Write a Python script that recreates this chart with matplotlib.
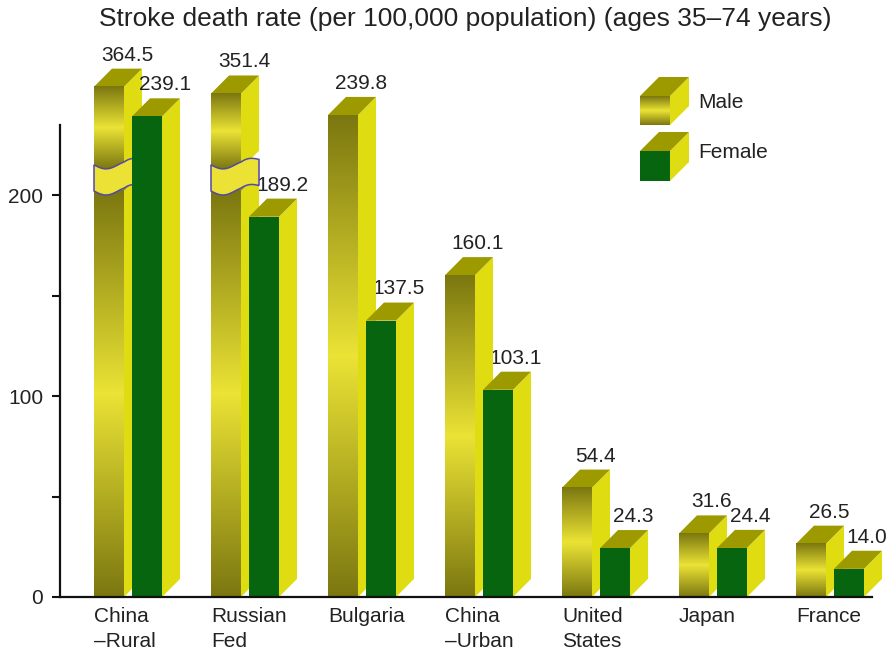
import numpy as np
import matplotlib
matplotlib.use("Agg")
import matplotlib.pyplot as plt
from matplotlib.colors import LinearSegmentedColormap
from matplotlib.patches import Polygon, Rectangle

plt.rcParams['font.family'] = ['Liberation Sans', 'DejaVu Sans']

# Data
countries = ["China\n\u2013Rural", "Russian\nFed", "Bulgaria", "China\n\u2013Urban",
             "United\nStates", "Japan", "France"]
male = [364.5, 351.4, 239.8, 160.1, 54.4, 31.6, 26.5]
female = [239.1, 189.2, 137.5, 103.1, 24.3, 24.4, 14.0]
title = "Stroke death rate (per 100,000 population) (ages 35\u201374 years)"

# Axis break for very tall bars
BREAK_LO, BREAK_HI = 202, 215
COMPRESS = 0.26

# Styling
DARK = '#7b7710'
BRIGHT = '#ebe335'
SIDE = '#e0dc12'
TOP = '#9d9a00'
GREEN = '#07640f'
BAND = '#ece236'
BAND_EDGE = '#5448a8'
TXT = '#222222'

SPACING = 117    # px per category
W = 30 / SPACING        # bar front width (x units)
OFF = 38 / SPACING      # female offset from male
DX, DY = 18 / SPACING, 9.0   # 3d depth in data units

male_cmap = LinearSegmentedColormap.from_list("m", [DARK, BRIGHT, DARK])
grad = np.linspace(0, 1, 256).reshape(-1, 1)


def box(ax, x, y0, y1, w, dx, dy, front, z):
    # side face, top face, then the front
    ax.add_patch(Polygon([(x + w, y0), (x + w + dx, y0 + dy), (x + w + dx, y1 + dy), (x + w, y1)],
                         closed=True, fc=SIDE, ec='none', zorder=z))
    ax.add_patch(Polygon([(x, y1), (x + dx, y1 + dy), (x + w + dx, y1 + dy), (x + w, y1)],
                         closed=True, fc=TOP, ec='none', zorder=z))
    if front == 'gradient':
        ax.imshow(grad, extent=[x, x + w, y0, y1], aspect='auto', cmap=male_cmap,
                  interpolation='bilinear', zorder=z + 0.1, origin='lower')
    else:
        ax.add_patch(Rectangle((x, y0), w, y1 - y0, fc=front, ec='none', zorder=z + 0.1))


def band(ax, x, z):
    xs = np.linspace(x, x + W + DX, 60)
    t = (xs - x) / (W + DX)
    rise = 0.3 * DY * np.clip((xs - x - W) / DX, 0, 1)
    top = BREAK_HI - 2.0 * np.sin(2 * np.pi * t) + rise
    bot = top - (BREAK_HI - BREAK_LO)
    pts = list(zip(xs, top)) + list(zip(xs[::-1], bot[::-1]))
    ax.add_patch(Polygon(pts, closed=True, fc=BAND, ec=BAND_EDGE, lw=1.1, zorder=z))


fig = plt.figure(figsize=(8.94, 6.53), dpi=100)
ax = fig.add_axes([60 / 894, 56 / 653, 834 / 894, 579 / 653])

for i, (name, m, f) in enumerate(zip(countries, male, female)):
    z = 2 + i * 4
    xm = i
    if m > BREAK_HI + 40:
        shown = BREAK_HI + (m - BREAK_HI) * COMPRESS
        box(ax, xm, 0, BREAK_LO, W, DX, DY, 'gradient', z)
        box(ax, xm, BREAK_HI - 2, shown, W, DX, DY, 'gradient', z)
        band(ax, xm, z + 1)
    else:
        shown = m
        box(ax, xm, 0, m, W, DX, DY, 'gradient', z)
    ax.text(xm + W / 2 + DX, shown + DY + 4, f"{m:.1f}", ha='center', va='baseline',
            fontsize=15, color=TXT)

    xf = i + OFF
    box(ax, xf, 0, f, W, DX, DY, GREEN, z + 2)
    ax.text(xf + W / 2 + DX, f + DY + 4, f"{f:.1f}", ha='center', va='baseline',
            fontsize=15, color=TXT)

    ax.text(xm, -5, name, ha='left', va='top', fontsize=15, color=TXT,
            linespacing=1.4, clip_on=False)

x0 = -34 / SPACING
ax.set_xlim(x0, x0 + 834 / SPACING)
ax.set_ylim(0, 579 / 2.01)

for s in ['top', 'right']:
    ax.spines[s].set_visible(False)
ax.spines['left'].set_bounds(0, 235)
ax.spines['bottom'].set_bounds(x0, (872 - 94) / SPACING)
for s in ['left', 'bottom']:
    ax.spines[s].set_linewidth(1.6)
    ax.spines[s].set_color('#111111')
    ax.spines[s].set_zorder(50)

ax.set_xticks([])
ax.set_yticks([0, 100, 200])
ax.set_yticks([50, 150], minor=True)
ax.tick_params(axis='y', which='both', length=6, width=1.5, color='#111111',
               labelsize=15, labelcolor=TXT, pad=6)

fig.text(465 / 894, 1 - 19 / 653, title, ha='center', va='center', fontsize=19, color=TXT)

# Legend drawn as small boxes in pixel units
lax = fig.add_axes([630 / 894, 1 - 190 / 653, 170 / 894, 120 / 653])
lax.axis('off')
box(lax, 10, 65, 94, 30, 19, 19, 'gradient', 2)
box(lax, 10, 9, 39, 30, 19, 19, GREEN, 2)
lax.set_xlim(0, 170)
lax.set_ylim(0, 120)
lax.text(68, 87, "Male", va='center', ha='left', fontsize=15, color=TXT)
lax.text(68, 38, "Female", va='center', ha='left', fontsize=15, color=TXT)

fig.savefig("out.png", dpi=100)
